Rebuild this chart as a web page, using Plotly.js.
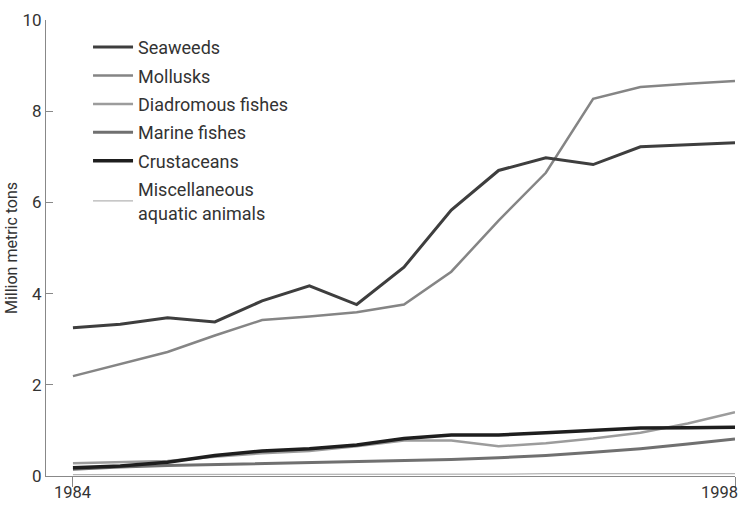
<!DOCTYPE html>
<html>
<head>
<meta charset="utf-8">
<script src="https://cdn.plot.ly/plotly-3.0.1.min.js"></script>
<style>html,body{margin:0;padding:0;background:#fff;}#chart{width:744px;height:505px;}</style>
</head>
<body>
<div id="chart"></div>
<script>
const years = [1984,1985,1986,1987,1988,1989,1990,1991,1992,1993,1994,1995,1996,1997,1998];
const seaweeds   = [3.25,3.33,3.47,3.38,3.84,4.17,3.76,4.58,5.83,6.70,6.98,6.83,7.22,7.27,7.31];
const mollusks   = [2.19,2.45,2.72,3.08,3.42,3.50,3.59,3.76,4.48,5.60,6.65,8.27,8.53,8.60,8.66];
const diadromous = [0.28,0.30,0.33,0.42,0.50,0.55,0.65,0.78,0.78,0.65,0.72,0.82,0.95,1.15,1.40];
const marine     = [0.15,0.20,0.23,0.25,0.27,0.30,0.32,0.33,0.36,0.40,0.45,0.52,0.60,0.70,0.81];
const crustaceans= [0.18,0.22,0.30,0.45,0.55,0.60,0.68,0.82,0.90,0.90,0.95,1.00,1.05,1.06,1.07];
const misc       = [0.03,0.03,0.03,0.03,0.03,0.04,0.04,0.04,0.04,0.04,0.05,0.05,0.05,0.05,0.05];
const names = ["Seaweeds","Mollusks","Diadromous fishes","Marine fishes","Crustaceans","Miscellaneous<br>aquatic animals"];
const series = [seaweeds, mollusks, diadromous, marine, crustaceans, misc];
const colors = ["#3e3e3e","#858585","#9c9c9c","#707070","#1e1e1e","#b4b4b4"];
const widths = [3,2.5,2.5,3,3.5,1.2];
const xTicks = [1984,1998];
const yTicks = [0,2,4,6,8,10];

const traces = series.map((s,i)=>({
  x: years, y: s, type:'scatter', mode:'lines', name: names[i],
  legendgroup: 'g'+i, legendrank: i+1,
  line:{color:colors[i], width:widths[i]}
}));
const order = [5,3,2,4,1,0];
const data = order.map(i=>traces[i]);

const fontFam = 'Roboto, "DejaVu Sans", sans-serif';
const layout = {
  width:744, height:505,
  margin:{l:46,r:9,t:20,b:29},
  paper_bgcolor:'#fff', plot_bgcolor:'#fff',
  font:{family:fontFam, size:17, color:'#333'},
  showlegend:true,
  legend:{x:0.061,y:0.9805,xanchor:'left',yanchor:'top',bgcolor:'rgba(255,255,255,0)',
          font:{size:18,color:'#333'}, traceorder:'grouped', tracegroupgap:2, itemwidth:40},
  xaxis:{range:[1983.43,1998], tickvals:xTicks, showticklabels:false,
         showgrid:false, zeroline:false, showline:true, linecolor:'#888', linewidth:1,
         ticks:'outside', ticklen:10, tickcolor:'#888'},
  yaxis:{range:[0,10], tickvals:yTicks, showgrid:false, zeroline:false, showline:true,
         linecolor:'#888', linewidth:1, ticks:'inside', ticklen:7, tickcolor:'#888',
         tickfont:{size:17,color:'#333'},
         title:{text:'Million metric tons', font:{size:16,color:'#333'}, standoff:0}},
  annotations: xTicks.map((t,i)=>({
    x:t, xref:'x', y:0, yref:'paper', yanchor:'top', yshift:-6, borderpad:0,
    xanchor: i===xTicks.length-1 ? 'right' : 'center', xshift: i===xTicks.length-1 ? 4 : 0,
    text:String(t), showarrow:false, font:{size:16.5,color:'#333',family:fontFam}
  }))
};
Plotly.newPlot('chart', data, layout, {displayModeBar:false, staticPlot:true});
</script>
</body>
</html>
